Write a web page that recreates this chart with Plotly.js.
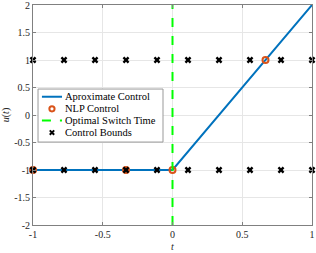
<!DOCTYPE html>
<html><head><meta charset="utf-8">
<script src="https://cdn.plot.ly/plotly-3.0.1.min.js"></script>
<style>html,body{margin:0;padding:0;background:#fff}
.main-svg text{font-family:'Liberation Serif','Times New Roman',serif !important}</style>
</head><body>
<div id="chart" style="width:316px;height:253px"></div>
<script>
const approxT = [-1, 0, 1];
const approxU = [-1, -1, 2];
const nlpT = [-1, -1/3, 0, 2/3];
const nlpU = [-1, -1, -1, 1];
const switchT = [0, 0];
const switchU = [-2, 2];
const boundT = [-1, -7/9, -5/9, -3/9, -1/9, 1/9, 3/9, 5/9, 7/9, 1];
const upperU = [1, 1, 1, 1, 1, 1, 1, 1, 1, 1];
const lowerU = [-1, -1, -1, -1, -1, -1, -1, -1, -1, -1];
const xTicks = [-1, -0.5, 0, 0.5, 1];
const yTicks = [-2, -1.5, -1, -0.5, 0, 0.5, 1, 1.5, 2];
const legendNames = ['Aproximate Control', 'NLP Control', 'Optimal Switch Time', 'Control Bounds'];

const FAM = 'Liberation Serif';
const font = {family: FAM, size: 10, color: '#262626'};
const blue = '#0072BD', orange = '#D95319', green = '#00FF00';

const traces = [
  {x: approxT, y: approxU, mode: 'lines', name: legendNames[0], line: {color: blue, width: 2}, cliponaxis: false},
  {x: nlpT, y: nlpU, mode: 'markers', name: legendNames[1], cliponaxis: false,
   marker: {symbol: 'circle-open', color: orange, size: 6, line: {width: 2, color: orange}}},
  {x: switchT, y: switchU, mode: 'lines', name: legendNames[2], line: {color: green, width: 2, dash: 'dash'}},
  {x: boundT.concat([null], boundT), y: upperU.concat([null], lowerU), mode: 'markers', name: legendNames[3],
   cliponaxis: false, marker: {symbol: 'x', color: '#000', size: 6, line: {width: 0}}}
];

// manual legend (paper coordinates)
const lgX0 = 0.018, lgX1 = 0.466, lgY0 = 0.377, lgY1 = 0.618;
const rowY = [0.583, 0.528, 0.475, 0.420];
const symX0 = 0.032, symX1 = 0.104, symXC = 0.068, textX = 0.107;
const shapes = [
  {type: 'rect', xref: 'paper', yref: 'paper', x0: lgX0, x1: lgX1, y0: lgY0, y1: lgY1,
   fillcolor: '#fff', line: {color: '#999', width: 1}, layer: 'above'},
  {type: 'line', xref: 'paper', yref: 'paper', x0: symX0, x1: symX1, y0: rowY[0], y1: rowY[0],
   line: {color: blue, width: 2}, layer: 'above'},
  {type: 'circle', xref: 'paper', yref: 'paper', xsizemode: 'pixel', ysizemode: 'pixel',
   xanchor: symXC, yanchor: rowY[1], x0: -2.6, x1: 2.6, y0: -2.6, y1: 2.6,
   line: {color: orange, width: 2}, layer: 'above'},
  {type: 'line', xref: 'paper', yref: 'paper', x0: symX0, x1: symX1, y0: rowY[2], y1: rowY[2],
   line: {color: green, width: 2, dash: 'dash'}, layer: 'above'},
  {type: 'line', xref: 'paper', yref: 'paper', xsizemode: 'pixel', ysizemode: 'pixel',
   xanchor: symXC, yanchor: rowY[3], x0: -2.2, x1: 2.2, y0: -2.2, y1: 2.2,
   line: {color: '#000', width: 2}, layer: 'above'},
  {type: 'line', xref: 'paper', yref: 'paper', xsizemode: 'pixel', ysizemode: 'pixel',
   xanchor: symXC, yanchor: rowY[3], x0: -2.2, x1: 2.2, y0: 2.2, y1: -2.2,
   line: {color: '#000', width: 2}, layer: 'above'}
];
const annotations = legendNames.map((n, i) => ({
  xref: 'paper', yref: 'paper', x: textX, y: rowY[i], xanchor: 'left', yanchor: 'middle',
  text: n, showarrow: false, font: {family: FAM, size: 10.5, color: '#000'}
}));

const axisCommon = {showline: true, mirror: 'ticks', linecolor: '#808080', linewidth: 1,
  showgrid: true, gridcolor: '#e6e6e6', gridwidth: 1, zeroline: false,
  ticks: 'inside', ticklen: 3, tickcolor: '#808080', tickfont: font, ticklabeloverflow: 'allow'};
const layout = {
  width: 316, height: 253,
  margin: {l: 33, r: 4, t: 5, b: 28},
  paper_bgcolor: '#fff', plot_bgcolor: '#fff',
  font: font,
  showlegend: false,
  shapes: shapes,
  annotations: annotations,
  xaxis: Object.assign({}, axisCommon, {range: [-1, 1], tickvals: xTicks, ticktext: xTicks.map(String),
    title: {text: '<i>t</i>', font: {family: FAM, size: 10, color: '#262626'}, standoff: 3}}),
  yaxis: Object.assign({}, axisCommon, {range: [-2, 2], tickvals: yTicks, ticktext: yTicks.map(String),
    title: {text: '<i>u</i>(<i>t</i>)', font: {family: FAM, size: 10, color: '#262626'}, standoff: 4}})
};
Plotly.newPlot('chart', traces, layout, {staticPlot: true, displayModeBar: false});
</script>
</body></html>
